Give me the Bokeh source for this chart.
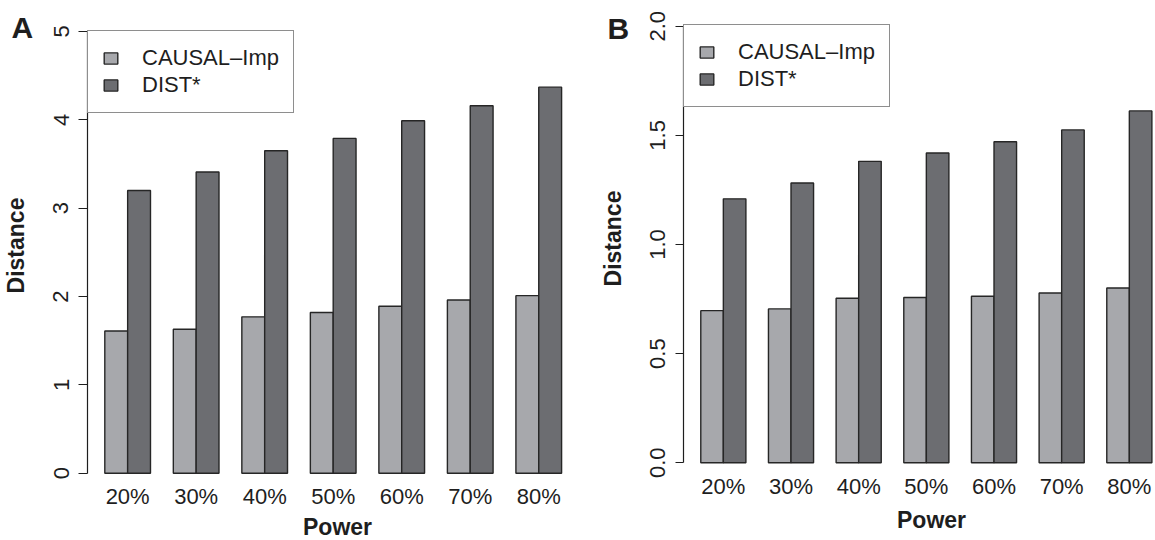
import math
from bokeh.plotting import figure
from bokeh.models import (Range1d, FixedTicker, PrintfTickFormatter, Legend,
                          LegendItem, Label, ColumnDataSource)
from bokeh.layouts import row
from bokeh.embed import file_html
from bokeh.resources import INLINE

# ---------------- data ----------------
powers = ["20%", "30%", "40%", "50%", "60%", "70%", "80%"]
series = ["CAUSAL\u2013Imp", "DIST*"]

a_causal = [1.61, 1.63, 1.77, 1.82, 1.89, 1.96, 2.01]
a_dist = [3.20, 3.41, 3.65, 3.79, 3.99, 4.16, 4.37]

b_causal = [0.697, 0.705, 0.754, 0.757, 0.763, 0.778, 0.801]
b_dist = [1.209, 1.282, 1.381, 1.419, 1.471, 1.525, 1.612]

a_yticks = [0, 1, 2, 3, 4, 5]
b_yticks = [0.0, 0.5, 1.0, 1.5, 2.0]

x_title = "Power"
y_title = "Distance"

# ---------------- style ----------------
FONT = "Liberation Sans"
TXT = "#1e1e1e"
LIGHT = "#a7a8ac"
DARK = "#6c6d71"
EDGE = "#262626"
H = 540


def screen_label(p, text, x, y, size, bold=True, align="left", angle=0.0):
    p.add_layout(Label(x=x, y=y, x_units="screen", y_units="screen",
                       text=text, text_font=FONT, text_font_size=size,
                       text_font_style="bold" if bold else "normal",
                       text_color=TXT, text_align=align,
                       text_baseline="alphabetic", angle=angle))


def panel(letter, causal, dist, yticks, ymax, fmt, width,
          xr, yr, axis_x, leg_xy, letter_xy, ytitle_xy, xtitle_xy, tick_out):
    n = len(powers)
    # R barplot(beside=TRUE) layout: each bar 1 unit, 1 unit gap before each group
    xc = [3 * i + 1.5 for i in range(n)]
    xd = [3 * i + 2.5 for i in range(n)]
    centers = [3 * i + 2 for i in range(n)]

    p = figure(width=width, height=H, output_backend="svg",
               toolbar_location=None, x_range=Range1d(*xr), y_range=Range1d(*yr),
               min_border_left=0, min_border_right=0,
               min_border_top=0, min_border_bottom=0)
    p.outline_line_color = None
    p.grid.visible = False
    p.background_fill_color = "white"
    p.border_fill_color = "white"

    src = ColumnDataSource(dict(xc=xc, xd=xd, c=causal, d=dist))
    r1 = p.vbar(x="xc", top="c", bottom=0, width=1, source=src,
                fill_color=LIGHT, line_color=EDGE, line_width=1.4)
    r2 = p.vbar(x="xd", top="d", bottom=0, width=1, source=src,
                fill_color=DARK, line_color=EDGE, line_width=1.4)

    # y axis (R style: line only spanning the ticks), drawn at a fixed x
    ya = p.yaxis[0]
    ya.fixed_location = axis_x
    ya.ticker = FixedTicker(ticks=yticks, minor_ticks=[])
    ya.bounds = (0, ymax)
    if fmt:
        ya.formatter = PrintfTickFormatter(format=fmt)
    ya.axis_line_color = TXT
    ya.axis_line_width = 1.2
    ya.major_tick_line_color = TXT
    ya.major_tick_line_width = 1.2
    ya.major_tick_out = tick_out
    ya.major_tick_in = 0
    ya.minor_tick_line_color = None
    ya.major_label_orientation = "vertical"
    ya.major_label_text_font = FONT
    ya.major_label_text_font_size = "22px"
    ya.major_label_text_color = TXT
    ya.major_label_standoff = 10

    # x axis: group labels only, drawn at y = 0
    xa = p.xaxis[0]
    xa.fixed_location = 0
    xa.ticker = FixedTicker(ticks=centers, minor_ticks=[])
    xa.major_label_overrides = {c: lab for c, lab in zip(centers, powers)}
    xa.axis_line_color = None
    xa.major_tick_line_color = None
    xa.minor_tick_line_color = None
    xa.major_tick_out = 0
    xa.major_tick_in = 0
    xa.major_label_text_font = FONT
    xa.major_label_text_font_size = "22px"
    xa.major_label_text_color = TXT
    xa.major_label_standoff = 11

    legend = Legend(items=[LegendItem(label=series[0], renderers=[r1]),
                           LegendItem(label=series[1], renderers=[r2])],
                    location=leg_xy, margin=0, padding=14, spacing=1,
                    glyph_width=17, glyph_height=14, label_standoff=23,
                    label_text_font=FONT, label_text_font_size="22px",
                    label_text_color=TXT,
                    border_line_color=TXT, border_line_width=1,
                    background_fill_color="white", background_fill_alpha=1)
    p.add_layout(legend)

    # axis titles and panel letter
    screen_label(p, y_title, ytitle_xy[0], ytitle_xy[1], "23px",
                 align="center", angle=math.pi / 2)
    screen_label(p, x_title, xtitle_xy[0], xtitle_xy[1], "23px", align="center")
    screen_label(p, letter, letter_xy[0], letter_xy[1], "30px")
    return p


# Panel A occupies page x 0..598, panel B 598..1155 (frames fill each figure)
pA = panel("A", a_causal, a_dist, a_yticks, 5, None, width=598,
           xr=(-3.567, 22.616), yr=(-0.7618, 5.351), axis_x=0.2426,
           leg_xy=(87, 427), letter_xy=(11, 513),
           ytitle_xy=(15.5, 295), xtitle_xy=(337, 14), tick_out=9)

pB = panel("B", b_causal, b_dist, b_yticks, 2.0, "%.1f", width=557,
           xr=(-3.535, 21.16), yr=(-0.3559, 2.1177), axis_x=0.2332,
           leg_xy=(85, 433), letter_xy=(9, 512),
           ytitle_xy=(14.5, 302), xtitle_xy=(333, 20.5), tick_out=8)

layout = row(pA, pB)
open("out.html", "w").write(file_html(layout, INLINE))
